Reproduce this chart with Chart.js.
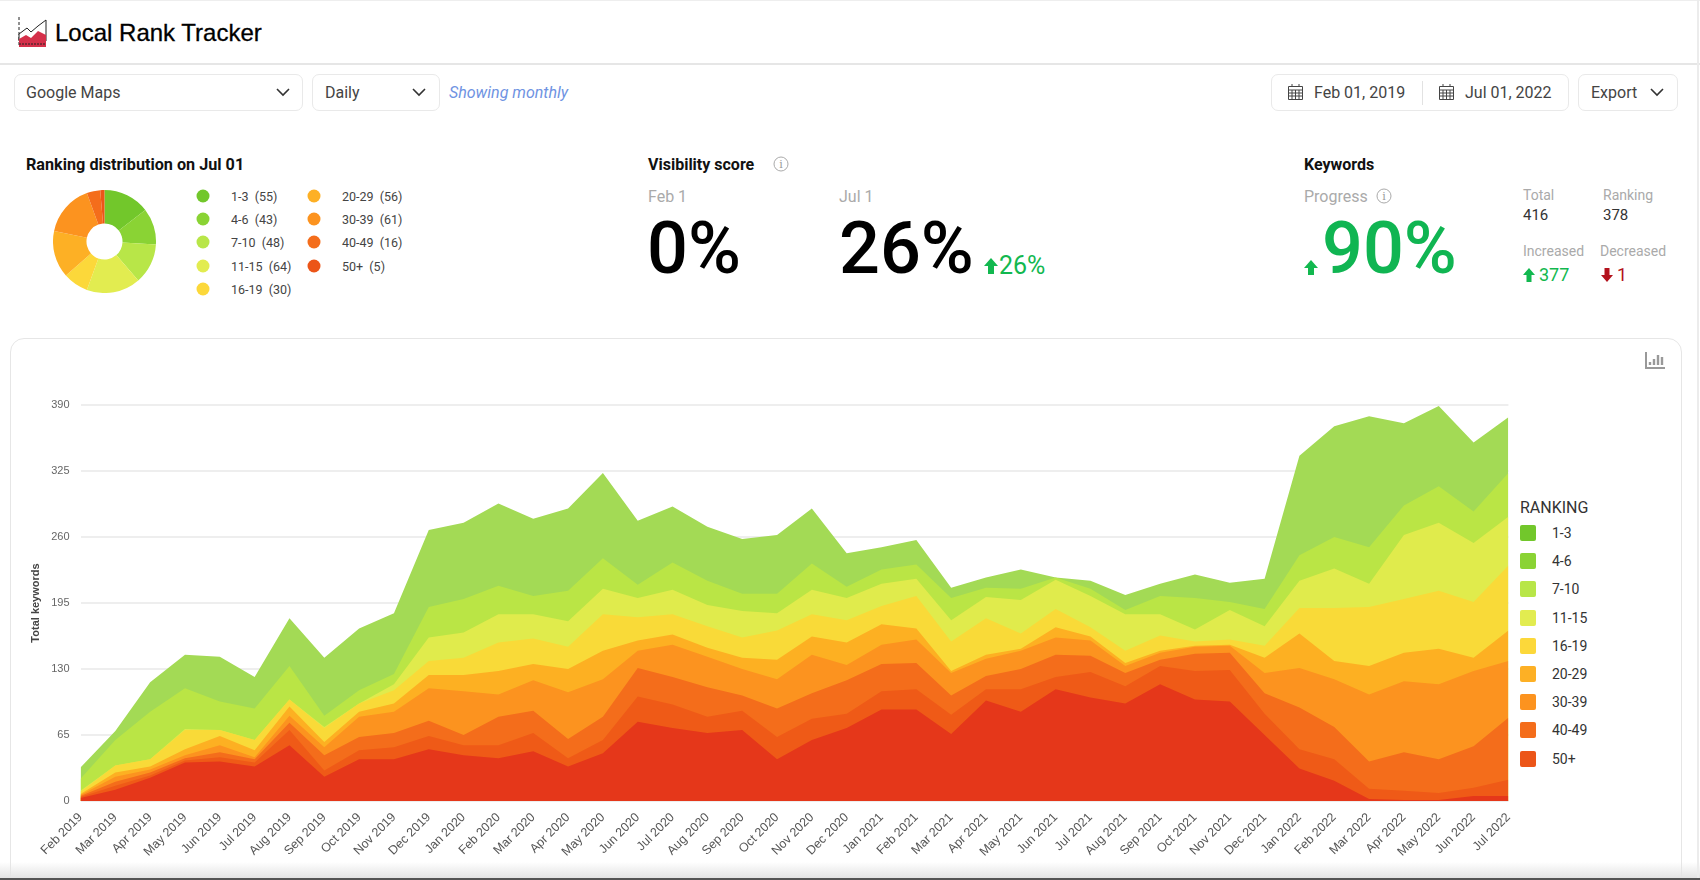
<!DOCTYPE html>
<html>
<head>
<meta charset="utf-8">
<title>Local Rank Tracker</title>
<script src="https://cdn.jsdelivr.net/npm/chart.js@4"></script>
<style>
html, body { margin: 0; padding: 0; width: 1700px; height: 880px; overflow: hidden; background: #fff; font-family: Roboto, sans-serif; color: #333; }
.abs { position: absolute; white-space: nowrap; line-height: 1; }
.box { position: absolute; box-sizing: border-box; border: 1.5px solid #e9e9e9; border-radius: 7px; background: #fff; }
.sel { font-size: 16px; color: #444; transform: translateY(-50%); }
.head { font-size: 16px; font-weight: 700; color: #111; transform: translateY(-50%); }
.gray { font-size: 16px; color: #aaa; transform: translateY(-50%); }
.small { font-size: 14px; color: #aaa; transform: translateY(-50%); }
.num { font-size: 15px; color: #333; transform: translateY(-50%); }
.dot { position: absolute; width: 13px; height: 13px; border-radius: 50%; transform: translate(-50%, -50%); }
.dlab { font-size: 12.5px; color: #444; transform: translateY(-50%); white-space: pre; }
.big { font-size: 72px; font-weight: 500; color: #000; }
.sw { position: absolute; width: 16px; height: 16px; border-radius: 2px; left: 1520px; }
.info { position: absolute; box-sizing: border-box; width: 15px; height: 15px; border: 1px solid #aaa; border-radius: 50%; color: #999; font: 11px/13px "DejaVu Serif", serif; text-align: center; transform: translate(-50%, -50%); }
svg { position: absolute; }
#rankChart { position: absolute; left: 0; top: 380px; }
#pieChart { position: absolute; left: 53px; top: 190px; }
</style>
</head>
<body>

<div style="position:absolute;left:0;top:0;width:1700px;height:1px;background:#eee"></div>
<!-- header -->
<svg style="left:18px;top:17px" width="30" height="31" viewBox="0 0 30 31">
  <path d="M1 0V28" stroke="#222" stroke-width="1" stroke-dasharray="3 2"/>
  <path d="M1 17L9 11L13 15L20 9L28 3V24H1Z" fill="#fff" stroke="#222" stroke-width="1"/>
  <path d="M1 22L8 18L13 21L20 14L28 18V30H1Z" fill="#d5304a"/>
  <path d="M1 27H28" stroke="#222" stroke-width="1" stroke-dasharray="2 1"/>
</svg>
<div class="abs" style="left:55px;top:19px;font:24px 'Liberation Sans',sans-serif;color:#000;-webkit-text-stroke:.3px #000">Local Rank Tracker</div>
<div style="position:absolute;left:0;top:63px;width:1700px;height:2px;background:#e6e6e6"></div>

<!-- controls -->
<div class="box" style="left:14px;top:74px;width:289px;height:37px"></div>
<div class="abs sel" style="left:26px;top:93px">Google Maps</div>
<svg style="left:276px;top:88px" width="14" height="9"><path d="M1 1L7 7L13 1" fill="none" stroke="#333" stroke-width="1.6"/></svg>
<div class="box" style="left:312px;top:74px;width:128px;height:37px"></div>
<div class="abs sel" style="left:325px;top:93px">Daily</div>
<svg style="left:412px;top:88px" width="14" height="9"><path d="M1 1L7 7L13 1" fill="none" stroke="#333" stroke-width="1.6"/></svg>
<div class="abs sel" style="left:449px;top:93px;color:#6f93e2;font-style:italic">Showing monthly</div>

<div class="box" style="left:1271px;top:74px;width:298px;height:37px"></div>
<svg style="left:1288px;top:84px" width="15" height="16" viewBox="0 0 15 16"><path d="M.5 2.5H14.500V15.500H.5ZM.5 6H14.500M.5 9H14.500M.5 12H14.500M4 6V15.500M7.500 6V15.500M11 6V15.500M4 0V3M11 0V3" fill="none" stroke="#444" stroke-width="1"/></svg>
<div class="abs sel" style="left:1314px;top:93px">Feb 01, 2019</div>
<div style="position:absolute;left:1422px;top:81px;width:1px;height:24px;background:#e2e2e2"></div>
<svg style="left:1439px;top:84px" width="15" height="16" viewBox="0 0 15 16"><path d="M.5 2.5H14.500V15.500H.5ZM.5 6H14.500M.5 9H14.500M.5 12H14.500M4 6V15.500M7.500 6V15.500M11 6V15.500M4 0V3M11 0V3" fill="none" stroke="#444" stroke-width="1"/></svg>
<div class="abs sel" style="left:1465px;top:93px">Jul 01, 2022</div>
<div class="box" style="left:1578px;top:74px;width:100px;height:37px"></div>
<div class="abs sel" style="left:1591px;top:93px">Export</div>
<svg style="left:1650px;top:88px" width="14" height="9"><path d="M1 1L7 7L13 1" fill="none" stroke="#333" stroke-width="1.6"/></svg>

<!-- ranking distribution -->
<div class="abs head" style="left:26px;top:165px;font-size:16.2px">Ranking distribution on Jul 01</div>
<canvas id="pieChart" width="103" height="103"></canvas>
<div id="pieLegend"></div>

<!-- visibility -->
<div class="abs head" style="left:648px;top:165px">Visibility score</div>
<div class="info" style="left:781px;top:164px">i</div>
<div class="abs gray" style="left:648px;top:197px">Feb 1</div>
<div class="abs gray" style="left:839px;top:197px">Jul 1</div>
<div class="abs big" style="left:647px;top:213px">0%</div>
<div class="abs big" style="left:839px;top:213px">26%</div>
<svg style="left:984px;top:258px" width="14" height="16"><path d="M7 0L14 8H10V16H4V8H0Z" fill="#12b84f"/></svg>
<div class="abs" style="left:999px;top:253px;font-size:25px;color:#12b84f">26%</div>

<!-- keywords -->
<div class="abs head" style="left:1304px;top:165px">Keywords</div>
<div class="abs gray" style="left:1304px;top:197px">Progress</div>
<div class="info" style="left:1384px;top:196px">i</div>
<svg style="left:1304px;top:260px" width="14" height="15"><path d="M7 0L14 8H10V15H4V8H0Z" fill="#12b84f"/></svg>
<div class="abs big" style="left:1322px;top:213px;color:#10b552">90%</div>
<div class="abs small" style="left:1523px;top:195px">Total</div>
<div class="abs num" style="left:1523px;top:215px">416</div>
<div class="abs small" style="left:1603px;top:195px">Ranking</div>
<div class="abs num" style="left:1603px;top:215px">378</div>
<div class="abs small" style="left:1523px;top:251px">Increased</div>
<svg style="left:1523px;top:268px" width="12" height="14"><path d="M6 0L12 7H8.500V14H3.500V7H0Z" fill="#12b84f"/></svg>
<div class="abs" style="left:1539px;top:266px;font-size:18px;color:#12b84f">377</div>
<div class="abs small" style="left:1600px;top:251px">Decreased</div>
<svg style="left:1601px;top:268px" width="12" height="14"><path d="M6 14L12 7H8.500V0H3.500V7H0Z" fill="#b3121d"/></svg>
<div class="abs" style="left:1617px;top:266px;font-size:18px;color:#b3121d">1</div>

<!-- chart card -->
<div style="position:absolute;box-sizing:border-box;left:10px;top:338px;width:1672px;height:560px;border:1.5px solid #e6e6e6;border-radius:14px"></div>
<svg style="left:1645px;top:352px" width="21" height="17" viewBox="0 0 21 17"><path d="M1 0V16H20" fill="none" stroke="#999" stroke-width="2"/><path d="M5 10V13M9 7V13M13 3V13M17 5V13" stroke="#999" stroke-width="2.400"/></svg>
<canvas id="rankChart" width="1520" height="490"></canvas>
<div class="abs" style="left:1520px;top:500px;font-size:16px;color:#333">RANKING</div>
<div id="rankLegend"></div>

<div style="position:absolute;left:0;top:862px;width:1700px;height:16px;background:linear-gradient(#fff0,#e4e4e4)"></div>
<div style="position:absolute;left:0;top:878px;width:1700px;height:2px;background:#555"></div>
<div style="position:absolute;left:1697px;top:0;width:2px;height:878px;background:#ececec"></div>

<script>
// months on the x axis
const months = ["Feb 2019","Mar 2019","Apr 2019","May 2019","Jun 2019","Jul 2019","Aug 2019","Sep 2019","Oct 2019","Nov 2019","Dec 2019",
  "Jan 2020","Feb 2020","Mar 2020","Apr 2020","May 2020","Jun 2020","Jul 2020","Aug 2020","Sep 2020","Oct 2020","Nov 2020","Dec 2020",
  "Jan 2021","Feb 2021","Mar 2021","Apr 2021","May 2021","Jun 2021","Jul 2021","Aug 2021","Sep 2021","Oct 2021","Nov 2021","Dec 2021",
  "Jan 2022","Feb 2022","Mar 2022","Apr 2022","May 2022","Jun 2022","Jul 2022"];

const yTicks = [0, 65, 130, 195, 260, 325, 390];

// ===== keywords per ranking bucket =====
const rank1to3 = [11,9,29,33,44,31,47,57,61,60,76,75,81,76,81,84,63,55,53,54,58,54,33,22,24,10,10,19,0,8,15,12,23,19,30,98,109,129,81,79,68,55];
const rank4to6 = [12,25,47,40,28,31,33,11,13,10,30,33,28,18,30,30,13,27,24,17,19,26,11,14,14,22,9,11,2,7,4,18,31,8,17,25,31,36,29,36,31,43];
const rank7to10 = [1,0,0,1,0,0,0,1,0,6,23,25,28,24,25,25,19,24,21,26,17,24,22,22,17,21,21,33,29,31,36,21,12,29,19,27,39,23,63,67,58,48];
const rank11to15 = [2,7,7,19,6,10,7,14,8,13,14,17,28,25,22,36,23,20,21,20,29,22,22,18,32,29,36,15,18,9,12,15,4,5,12,25,52,58,53,57,55,64];
const rank16to19 = [1,4,3,6,9,7,9,5,5,8,13,16,23,16,23,28,10,10,9,11,19,18,22,20,11,2,4,2,10,4,3,2,1,1,15,34,18,28,28,35,13,30];
const rank20to29 = [1,5,3,3,7,2,7,8,20,21,32,43,22,30,46,37,17,32,30,26,29,38,15,19,23,22,17,18,17,15,7,7,7,7,20,39,47,66,70,74,74,56];
const rank30to39 = [1,4,3,2,5,3,7,15,13,14,15,10,28,22,19,23,28,27,29,15,28,25,33,27,26,19,13,20,22,16,13,6,17,17,20,41,32,27,38,33,41,61];
const rank40to49 = [1,4,2,2,4,4,15,6,9,12,13,10,13,18,8,13,25,23,16,19,22,21,14,18,20,19,11,22,12,25,17,18,28,31,21,19,21,10,9,7,8,16];
const rank50plus = [3,11,23,38,39,34,55,24,41,41,51,45,42,49,34,47,78,72,67,70,41,60,72,90,90,66,99,88,110,102,96,115,100,98,65,32,20,2,1,1,5,5];

const bucketNames = ["1-3","4-6","7-10","11-15","16-19","20-29","30-39","40-49","50+"];
const bucketSeries = [rank1to3, rank4to6, rank7to10, rank11to15, rank16to19, rank20to29, rank30to39, rank40to49, rank50plus];
const julyCounts = [55, 43, 48, 64, 30, 56, 61, 16, 5];

const areaColors = ["#a3da55","#bae545","#e0eb4c","#f9da38","#fdb022","#fc931f","#f46d1b","#ef5a17","#e5371a"];
const legendColors = ["#72c72b","#8ad334","#b8e648","#e2ec50","#fcd83a","#fdb025","#fc931f","#f46d1b","#ec5518"];

// ===== stacked area =====
// worst rank goes first so it sits at the bottom of the stack
const datasets = bucketNames.map((name, i) => ({
    label: name,
    data: bucketSeries[i],
    backgroundColor: areaColors[i],
    borderWidth: 0,
    pointRadius: 0,
    tension: 0,
    fill: "origin"
})).reverse();

new Chart(document.getElementById("rankChart"), {
    type: "line",
    data: { labels: months, datasets: datasets },
    options: {
        responsive: false,
        animation: false,
        layout: { padding: { top: 25, right: 4, left: 0, bottom: 0 } },
        plugins: { legend: { display: false }, tooltip: { enabled: false } },
        scales: {
            x: {
                stacked: true,
                grid: { display: false },
                border: { display: false },
                afterFit: (s) => { s.height = 69; },
                ticks: {
                    autoSkip: false,
                    minRotation: 45,
                    maxRotation: 45,
                    padding: 1,
                    color: "#555",
                    font: { family: "'Liberation Sans'", size: 12.5 }
                }
            },
            y: {
                stacked: true,
                min: 0,
                max: 390,
                afterFit: (s) => { s.width = 80.5; },
                afterBuildTicks: (s) => { s.ticks = yTicks.map(v => ({ value: v })); },
                grid: { color: "#eeeeee", lineWidth: 2, drawTicks: false },
                border: { display: false },
                title: {
                    display: true,
                    text: "Total keywords",
                    color: "#444",
                    padding: { top: 29, bottom: 0 },
                    font: { family: "'Liberation Sans'", size: 11, weight: "bold" }
                },
                ticks: {
                    padding: 11,
                    color: "#666",
                    font: { family: "'Liberation Sans'", size: 11 }
                }
            }
        }
    }
});

// ===== ranking pie =====
new Chart(document.getElementById("pieChart"), {
    type: "doughnut",
    data: {
        labels: bucketNames,
        datasets: [{ data: julyCounts, backgroundColor: legendColors, borderWidth: 0 }]
    },
    options: {
        responsive: false,
        animation: false,
        cutout: "35%",
        plugins: { legend: { display: false }, tooltip: { enabled: false } }
    }
});

// ===== legends =====
const pieLegend = document.getElementById("pieLegend");
const rankLegend = document.getElementById("rankLegend");

bucketNames.forEach((name, i) => {
    const col = i < 5 ? 0 : 1;
    const row = i < 5 ? i : i - 5;
    const dotX = col === 0 ? 202.5 : 313.5;
    const textX = col === 0 ? 231 : 342;
    const y = 196 + row * 23.2;

    const dot = document.createElement("div");
    dot.className = "dot";
    dot.style.left = dotX + "px";
    dot.style.top = y + "px";
    dot.style.background = legendColors[i];
    pieLegend.appendChild(dot);

    const lab = document.createElement("div");
    lab.className = "abs dlab";
    lab.style.left = textX + "px";
    lab.style.top = (y + 1) + "px";
    lab.textContent = `${name}  (${julyCounts[i]})`;
    pieLegend.appendChild(lab);

    const sw = document.createElement("div");
    sw.className = "sw";
    sw.style.top = (525 + i * 28.2) + "px";
    sw.style.background = legendColors[i];
    rankLegend.appendChild(sw);

    const t = document.createElement("div");
    t.className = "abs";
    t.style.left = "1552px";
    t.style.top = (526 + i * 28.2) + "px";
    t.style.fontSize = "14px";
    t.style.color = "#333";
    t.textContent = name;
    rankLegend.appendChild(t);
});
</script>
</body>
</html>
